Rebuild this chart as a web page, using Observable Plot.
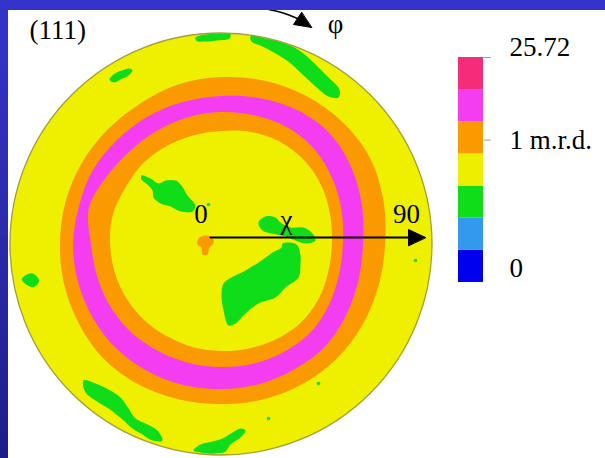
<!DOCTYPE html>
<html><head><meta charset="utf-8">
<script src="https://cdn.jsdelivr.net/npm/d3@7"></script>
<script src="https://cdn.jsdelivr.net/npm/@observablehq/plot@0.6"></script>
<style>
html,body{margin:0;padding:0;background:#fff;}
#frame{position:relative;width:605px;height:458px;overflow:hidden;background:linear-gradient(to bottom,#3434cc 0%,#2b2bab 50%,#1d1d88 100%);}
#main{position:absolute;left:8px;top:10px;line-height:0;}
#legend{position:absolute;left:440px;top:30px;line-height:0;}
</style></head><body>
<div id="frame"><div id="main"></div><div id="legend"></div></div>
<script>
// ---- pole figure (111): band boundaries, chi (deg) at azimuth phi (deg) ----
const angles = [0,15,30,45,60,75,90,105,120,135,150,165,180,195,210,225,240,255,270,285,300,315,330,345];
const innerR  = [47.3,48.2,49.5,50.3,50.3,49.5,48.2,47.8,47.8,47.8,47.3,47.8,47.3,46.9,46.5,46.1,45.6,45.6,45.6,46.1,46.9,47.8,47.8,47.3];
const magInR  = [52.0,53.3,55.0,56.7,57.2,56.7,56.3,55.9,55.5,55.5,56.7,58.4,55.5,54.6,54.2,53.7,52.9,52.5,52.5,52.9,53.3,53.7,52.9,52.0];
const magOutR = [60.6,62.3,64.4,66.1,65.7,64.4,63.1,62.7,62.7,62.7,63.1,62.7,63.1,63.1,63.1,63.1,62.7,62.3,61.9,61.9,61.9,62.3,61.4,60.6];
const outerR  = [70.0,71.7,73.4,73.4,72.9,72.1,71.2,70.4,69.1,68.7,68.7,68.7,68.7,69.1,69.5,70.0,69.5,68.7,68.3,68.7,69.1,69.5,69.5,69.5];

// ---- low-density (green) islands, x/y in chi units ----
const blobTopEdge = [[-10.88,88.08],[-6.61,89.36],[-1.07,89.79],[4.05,89.57],[3.63,87.65],[-1.49,86.80],[-6.61,86.37],[-10.45,86.59]];
const blobTopRight = [[12.58,88.51],[18.98,87.65],[25.38,86.16],[30.50,84.24],[35.19,81.26],[40.31,76.56],[45.85,71.02],[50.54,65.90],[50.12,62.49],[45.85,62.91],[40.31,67.18],[34.76,72.30],[29.22,77.42],[23.25,81.26],[17.70,84.24],[13.01,86.37]];
const blobTopLeft = [[-47.56,70.17],[-45.85,72.30],[-42.44,74.00],[-39.03,74.86],[-37.75,74.00],[-39.45,71.87],[-42.87,70.17],[-45.85,68.89]];
const blobCenterLeft = [[-33.91,29.22],[-30.07,27.94],[-26.66,25.81],[-23.67,27.09],[-19.41,27.09],[-16.85,24.95],[-14.29,20.69],[-10.88,16.42],[-12.16,13.86],[-17.27,13.86],[-21.54,16.00],[-25.81,17.27],[-28.79,19.83],[-29.22,22.82],[-31.35,25.38],[-33.91,27.51]];
const blobChi = [[16.00,9.17],[18.98,11.73],[23.25,11.30],[25.38,9.17],[29.65,7.04],[35.19,7.04],[39.03,4.48],[40.31,1.49],[36.04,0.21],[31.78,1.49],[27.51,3.20],[21.97,4.48],[17.70,5.76]];
const blobCentral = [[26.23,0.21],[32.20,-0.21],[33.91,-4.91],[33.91,-8.32],[33.06,-14.29],[27.51,-18.55],[23.25,-22.82],[16.00,-25.38],[10.45,-29.65],[6.18,-33.91],[3.20,-34.76],[1.07,-28.36],[0.21,-21.97],[1.07,-16.85],[4.48,-14.29],[10.45,-11.30],[17.27,-7.04],[21.97,-3.63],[25.81,-1.49]];
const blobLeftEdge = [[-84.97,-14.84],[-80.70,-12.45],[-77.55,-15.57],[-79.98,-18.43],[-83.52,-16.98]];
const blobBottomLeft = [[-58.65,-58.22],[-53.53,-59.50],[-47.99,-62.06],[-42.87,-65.47],[-39.45,-70.17],[-36.47,-74.43],[-31.35,-76.99],[-27.09,-79.55],[-24.95,-83.81],[-29.22,-83.81],[-33.48,-81.26],[-37.75,-78.70],[-42.01,-74.86],[-47.99,-70.17],[-53.53,-66.75],[-57.80,-63.34]];
const blobBottom = [[-11.73,-88.08],[-8.74,-85.52],[-3.63,-84.24],[0.64,-82.96],[4.91,-80.40],[8.32,-78.70],[10.45,-79.55],[8.32,-82.54],[4.05,-85.52],[1.92,-88.51],[-2.35,-89.36],[-7.46,-89.15]];
const greenSpecks = [[82.96,-7.04],[41.59,-59.50],[20.26,-74.43],[-5.33,16.85]];
const orangeSpot = [[-9.60,2.35],[-6.61,3.63],[-3.63,2.77],[-3.20,0.21],[-4.91,-1.49],[-5.76,-4.48],[-7.89,-4.48],[-8.32,-1.49],[-10.02,-0.21]];

// ---- annotations (chi units) ----
const chiShaft = [[-4.48,2.77],[80.5,2.77]];
const chiHead = [[87.23,2.77],[79.98,6.18],[79.98,-0.64]];
const phiShaft = [[18.55,100.45],[25.81,98.74],[32.63,96.19]];
const phiHead = [[38.60,92.35],[30.92,93.63],[34.34,98.74]];
const titleText = "(111)";
const titleX = -81.68, titleY = 87.23;
const labelText = ["0","90","\u03C7","\u03C6"];
const labelX = [-8.53,79.12,27.94,48.84];
const labelY = [9.17,9.17,6.61,90.2];

// ---- legend ----
const legendColors = ["#0000ee","#3399ee","#10dd1a","#eeee00","#fa9a00","#f43cf0","#f52c7a"]; // bottom to top
const legendLabels = ["25.72","1 m.r.d.","0"];
const legendLabelAt = [7.32,4.43,0.45];
const legendTickAt = [7,4.43];

const YELLOW = "#efef00", ORANGE = "#fa9a00", MAGENTA = "#f43cf0", GREEN = "#10dd1a";
const FONT = "'Liberation Serif','Times New Roman',serif";

const toXY = radii => angles.map((a, i) => ({x: radii[i] * Math.cos(a * Math.PI / 180), y: radii[i] * Math.sin(a * Math.PI / 180)}));
const blobs = [["topEdge", blobTopEdge],["topRight", blobTopRight],["topLeft", blobTopLeft],["centerLeft", blobCenterLeft],["chi", blobChi],["central", blobCentral],["leftEdge", blobLeftEdge],["bottomLeft", blobBottomLeft],["bottom", blobBottom]];
const greenPts = blobs.flatMap(([id, pts]) => pts.map(([x, y]) => ({id, x, y})));
const labels = labelText.map((t, i) => ({t, x: labelX[i], y: labelY[i]}));

const W = 597, H = 448, ML = 1.5, MR = 173.5, MT = 22.5, MB = 3.5;
const R = (W - ML - MR) / 2;
const px = d => d[0], py = d => d[1];

const main = Plot.plot({
  width: W, height: H,
  marginLeft: ML, marginRight: MR, marginTop: MT, marginBottom: MB,
  x: {domain: [-90, 90], axis: null},
  y: {domain: [-90, 90], axis: null},
  style: {background: "white", fontFamily: FONT, color: "black"},
  marks: [
    Plot.dot([{x: 0, y: 0}], {x: "x", y: "y", r: R, fill: YELLOW, stroke: "none"}),
    Plot.line(toXY(outerR), {x: "x", y: "y", fill: ORANGE, stroke: "none", curve: "catmull-rom-closed"}),
    Plot.line(toXY(magOutR), {x: "x", y: "y", fill: MAGENTA, stroke: "none", curve: "catmull-rom-closed"}),
    Plot.line(toXY(magInR), {x: "x", y: "y", fill: ORANGE, stroke: "none", curve: "catmull-rom-closed"}),
    Plot.line(toXY(innerR), {x: "x", y: "y", fill: YELLOW, stroke: "none", curve: "catmull-rom-closed"}),
    Plot.line(greenPts, {x: "x", y: "y", z: "id", fill: GREEN, stroke: "none", curve: "catmull-rom-closed"}),
    Plot.dot(greenSpecks, {x: px, y: py, r: 1.8, fill: GREEN, stroke: "none"}),
    Plot.line(orangeSpot, {x: px, y: py, fill: ORANGE, stroke: "none", curve: "catmull-rom-closed"}),
    Plot.dot([{x: 0, y: 0}], {x: "x", y: "y", r: R, fill: "none", stroke: "#a39f3a", strokeWidth: 1.3}),
    Plot.line(chiShaft, {x: px, y: py, stroke: "black", strokeWidth: 2}),
    Plot.line(chiHead, {x: px, y: py, fill: "black", stroke: "black", strokeWidth: 1, curve: "linear-closed"}),
    Plot.line(phiShaft, {x: px, y: py, stroke: "black", strokeWidth: 1.6, curve: "natural"}),
    Plot.line(phiHead, {x: px, y: py, fill: "black", stroke: "black", strokeWidth: 1, curve: "linear-closed"}),
    Plot.text([titleText], {x: titleX, y: titleY, text: d => d, textAnchor: "start", lineAnchor: "bottom", fontSize: 27, fill: "black"}),
    Plot.text(labels, {x: "x", y: "y", text: "t", textAnchor: "middle", lineAnchor: "bottom", fontSize: 27, fill: "black"})
  ]
});
document.getElementById("main").appendChild(main);

const bins = legendColors.map((c, i) => ({lo: i, hi: i + 1, c}));
const legend = Plot.plot({
  width: 165, height: 270,
  marginLeft: 18, marginRight: 122, marginTop: 27, marginBottom: 18,
  x: {domain: [0, 1], axis: null},
  y: {domain: [0, 7], axis: null},
  color: {type: "identity"},
  style: {background: "transparent", fontFamily: FONT, color: "black"},
  marks: [
    Plot.rect(bins, {x1: 0, x2: 1, y1: "lo", y2: "hi", fill: "c"}),
    Plot.link(legendTickAt, {x1: 1, x2: 1.28, y1: d => d, y2: d => d, stroke: "#999", strokeWidth: 1}),
    Plot.text(legendLabels, {x: 2.04, y: (d, i) => legendLabelAt[i], text: d => d, textAnchor: "start", lineAnchor: "middle", fontSize: 27, fill: "black"})
  ]
});
document.getElementById("legend").appendChild(legend);
</script>
</body></html>
